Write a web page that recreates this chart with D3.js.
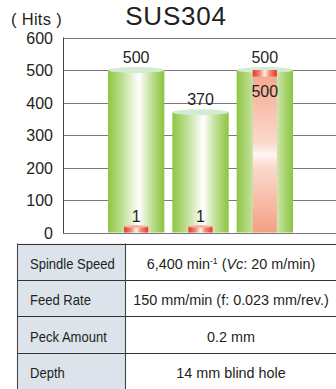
<!DOCTYPE html>
<html>
<head>
<meta charset="utf-8">
<script src="https://cdn.jsdelivr.net/npm/d3@7"></script>
<style>
  html, body { margin: 0; padding: 0; background: #fff; }
  svg { display: block; font-family: "Liberation Sans", Arial, Helvetica, sans-serif; }
</style>
</head>
<body>
<svg id="chart" width="336" height="389"></svg>
<script>
// ---- data ----
const title = "SUS304";
const unitLabel = "( Hits )";
const categories = ["Tool A", "Tool B", "Tool C"];
const greenValues = [500, 370, 500];
const redValues = [1, 1, 500];
const yTicks = [0, 100, 200, 300, 400, 500, 600];
const tableLabels = ["Spindle Speed", "Feed Rate", "Peck Amount", "Depth"];
const tableValues = [
  "6,400 min^-1^ (*Vc*: 20 m/min)",
  "150 mm/min (f: 0.023 mm/rev.)",
  "0.2 mm",
  "14 mm blind hole"
];

// ---- layout ----
const svg = d3.select("#chart");
const W = 336;
const plot = { left: 63, right: 336, top: 37.5, bottom: 232.5 };

const y = d3.scaleLinear().domain([0, 600]).range([plot.bottom, plot.top]);
const x = d3.scaleBand().domain(categories).range([108, 293]).paddingInner(0.124).paddingOuter(0);

// ---- gradients ----
const defs = svg.append("defs");
function hGrad(id, stops) {
  const g = defs.append("linearGradient").attr("id", id).attr("x1", "0").attr("x2", "1").attr("y1", "0").attr("y2", "0");
  stops.forEach(s => g.append("stop").attr("offset", s[0]).attr("stop-color", s[1]));
}
function vGrad(id, stops) {
  const g = defs.append("linearGradient").attr("id", id).attr("x1", "0").attr("x2", "0").attr("y1", "0").attr("y2", "1");
  stops.forEach(s => g.append("stop").attr("offset", s[0]).attr("stop-color", s[1]));
}
hGrad("gGreen", [[0, "#8fc644"], [0.2, "#b3d982"], [0.55, "#ffffff"], [0.8, "#b8db88"], [1, "#8cc53f"]]);
hGrad("gRedCap", [[0, "#e8362a"], [0.3, "#f08a78"], [0.5, "#fff2ee"], [0.7, "#f08a78"], [1, "#e8362a"]]);
vGrad("gPink", [[0, "#f5a68c"], [0.45, "#fbd9cc"], [0.52, "#fff6f2"], [0.6, "#fbd9cc"], [1, "#f4a083"]]);

// ---- grid ----
svg.append("g").selectAll("line").data(yTicks.filter(d => d > 0)).join("line")
  .attr("x1", plot.left).attr("x2", plot.right)
  .attr("y1", d => Math.round(y(d)) + 0.5).attr("y2", d => Math.round(y(d)) + 0.5)
  .attr("stroke", "#7a7a7a").attr("stroke-width", 1);

// ---- y axis ----
const yAxis = svg.append("g").attr("transform", `translate(${plot.left - 10},0)`)
  .call(d3.axisLeft(y).tickValues(yTicks).tickSize(0).tickPadding(0).tickFormat(d3.format("d")));
yAxis.select(".domain").remove();
yAxis.selectAll("text").attr("font-size", 16).attr("fill", "#231f20")
  .attr("font-family", "Liberation Sans, Arial, sans-serif").attr("dy", "0.36em");

// ---- green cylinders ----
const gBars = svg.append("g");
categories.forEach((c, i) => {
  const v = greenValues[i];
  const bx = x(c), bw = x.bandwidth();
  gBars.append("rect").attr("x", bx).attr("y", y(v)).attr("width", bw)
    .attr("height", y(0) - y(v)).attr("fill", "url(#gGreen)");
  gBars.append("ellipse").attr("cx", bx + bw / 2).attr("cy", y(v)).attr("rx", bw / 2).attr("ry", 3)
    .attr("fill", "#d3ebd3");
  gBars.append("text").attr("x", bx + bw / 2).attr("y", y(v) - 7)
    .attr("text-anchor", "middle").attr("font-size", 16).attr("fill", "#231f20").text(v);
});

// ---- red bars ----
const rBars = svg.append("g");
const redW = 24, capH = 6;
categories.forEach((c, i) => {
  const v = redValues[i];
  const cx = x(c) + x.bandwidth() / 2;
  const top = Math.min(y(v), y(0) - capH);
  if (y(0) - top > capH + 1) {
    rBars.append("rect").attr("x", cx - redW / 2).attr("y", top).attr("width", redW)
      .attr("height", y(0) - top).attr("fill", "url(#gPink)");
  }
  rBars.append("rect").attr("x", cx - redW / 2).attr("y", top).attr("width", redW)
    .attr("height", capH + (v < 10 ? 0 : 0.5)).attr("fill", "url(#gRedCap)");
  if (v < 10) {
    rBars.append("ellipse").attr("cx", cx).attr("cy", top).attr("rx", redW / 2).attr("ry", 1.5)
      .attr("fill", "#f6b3a3");
  }
  const ly = (y(0) - top > 40) ? top + 27 : top - 5;
  rBars.append("text").attr("x", cx).attr("y", ly)
    .attr("text-anchor", "middle").attr("font-size", 16).attr("fill", "#231f20").text(v);
});

// ---- axis frame ----
svg.append("line").attr("x1", plot.left + 0.5).attr("x2", plot.left + 0.5)
  .attr("y1", plot.top).attr("y2", plot.bottom + 0.5).attr("stroke", "#444").attr("stroke-width", 1);
svg.append("line").attr("x1", plot.left).attr("x2", plot.right)
  .attr("y1", Math.round(plot.bottom) + 0.5).attr("y2", Math.round(plot.bottom) + 0.5)
  .attr("stroke", "#777").attr("stroke-width", 1.2);

// ---- titles ----
svg.append("text").attr("x", 176).attr("y", 25).attr("text-anchor", "middle")
  .attr("font-size", 26).attr("fill", "#231f20").attr("letter-spacing", 0.8).text(title);
svg.append("text").attr("x", 11).attr("y", 24.5).attr("font-size", 16.5).attr("fill", "#231f20")
  .attr("letter-spacing", 0.3).text(unitLabel);

// ---- table ----
const tbl = { left: 17.5, top: 243.5, col: 125.5, rowH: 36.4 };
const tg = svg.append("g");
tableLabels.forEach((lab, i) => {
  const ry = tbl.top + i * tbl.rowH;
  tg.append("rect").attr("x", tbl.left).attr("y", ry).attr("width", tbl.col - tbl.left)
    .attr("height", tbl.rowH).attr("fill", "#dce3ea");
});
// lines
tableLabels.forEach((lab, i) => {
  const ry = Math.round(tbl.top + i * tbl.rowH) + 0.5;
  tg.append("line").attr("x1", tbl.left).attr("x2", W).attr("y1", ry).attr("y2", ry)
    .attr("stroke", "#333").attr("stroke-width", 1.1);
});
tg.append("line").attr("x1", tbl.left).attr("x2", tbl.left).attr("y1", tbl.top).attr("y2", 389)
  .attr("stroke", "#444").attr("stroke-width", 1.1);
tg.append("line").attr("x1", tbl.col).attr("x2", tbl.col).attr("y1", tbl.top).attr("y2", 389)
  .attr("stroke", "#444").attr("stroke-width", 1.1);

tableLabels.forEach((lab, i) => {
  const by = tbl.top + i * tbl.rowH + 25.5;
  tg.append("text").attr("transform", `translate(30,${by}) scale(0.87,1)`)
    .attr("font-size", 15).attr("fill", "#231f20").text(lab);
});

function richText(sel, str) {
  const re = /(\^[^^]*\^|\*[^*]*\*)/g;
  str.split(re).filter(s => s.length).forEach(seg => {
    if (seg.startsWith("^")) {
      sel.append("tspan").attr("baseline-shift", "super").attr("font-size", 9).text(seg.slice(1, -1));
    } else if (seg.startsWith("*")) {
      sel.append("tspan").attr("font-style", "italic").text(seg.slice(1, -1));
    } else {
      sel.append("tspan").text(seg);
    }
  });
}
tableValues.forEach((val, i) => {
  const by = tbl.top + i * tbl.rowH + 25.5;
  const t = tg.append("text").attr("transform", `translate(231,${by}) scale(0.96,1)`)
    .attr("text-anchor", "middle").attr("font-size", 15).attr("fill", "#231f20");
  richText(t, val);
});
</script>
</body>
</html>
